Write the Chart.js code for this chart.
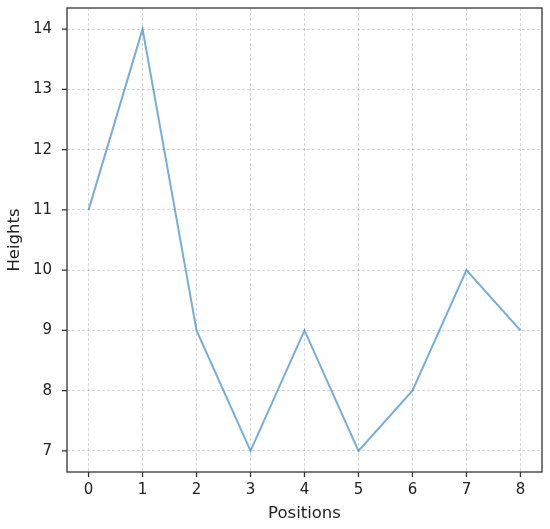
<!DOCTYPE html>
<html>
<head>
<meta charset="utf-8">
<script src="https://cdn.jsdelivr.net/npm/chart.js@4/dist/chart.umd.min.js"></script>
<style>
    body { margin: 0; background: #fff; }
    #wrap { width: 550px; height: 529px; position: relative; }
</style>
</head>
<body>
<div id="wrap"><canvas id="chart"></canvas></div>
<script>
const positions = [0, 1, 2, 3, 4, 5, 6, 7, 8];
const heights = [11, 14, 9, 7, 9, 7, 8, 10, 9];
const xTicks = [0, 1, 2, 3, 4, 5, 6, 7, 8];
const yTicks = [7, 8, 9, 10, 11, 12, 13, 14];

const TEXT = '#222';
const FONT = 'DejaVu Sans';

// matplotlib style box round the plot plus short outward tick marks
const framePlugin = {
    id: 'frame',
    afterDraw(chart) {
        const {ctx, chartArea: a, scales} = chart;
        ctx.save();
        ctx.strokeStyle = '#333';
        ctx.lineWidth = 1.3;
        ctx.strokeRect(a.left, a.top, a.right - a.left, a.bottom - a.top);
        ctx.beginPath();
        scales.x.ticks.forEach(t => {
            let px = scales.x.getPixelForValue(t.value);
            ctx.moveTo(px, a.bottom);
            ctx.lineTo(px, a.bottom + 5);
        });
        scales.y.ticks.forEach(t => {
            let py = scales.y.getPixelForValue(t.value);
            ctx.moveTo(a.left, py);
            ctx.lineTo(a.left - 5, py);
        });
        ctx.stroke();
        ctx.restore();
    }
};

const gridOpts = {
    color: 'rgba(0,0,0,0.16)',
    lineWidth: 1,
    drawTicks: false
};

new Chart(document.getElementById('chart'), {
    type: 'line',
    data: {
        datasets: [{
            data: positions.map((p, i) => ({x: p, y: heights[i]})),
            borderColor: 'rgba(31,119,180,0.6)',
            borderWidth: 2,
            pointRadius: 0,
            tension: 0,
            fill: false
        }]
    },
    options: {
        responsive: true,
        maintainAspectRatio: false,
        animation: false,
        layout: { padding: {left: 0, right: 8, top: 8, bottom: 0} },
        plugins: { legend: { display: false }, tooltip: { enabled: false } },
        scales: {
            x: {
                type: 'linear',
                min: -0.4,
                max: 8.4,
                afterBuildTicks: axis => { axis.ticks = xTicks.map(v => ({value: v})); },
                afterFit: axis => { axis.height = 57; },
                grid: gridOpts,
                border: { display: false, dash: [3, 2] },
                ticks: {
                    autoSkip: false,
                    maxRotation: 0,
                    padding: 9,
                    color: TEXT,
                    font: { family: FONT, size: 15 }
                },
                title: {
                    display: true,
                    text: 'Positions',
                    color: TEXT,
                    font: { family: FONT, size: 16.5 },
                    padding: { top: 0, bottom: 5 }
                }
            },
            y: {
                type: 'linear',
                min: 6.65,
                max: 14.35,
                afterBuildTicks: axis => { axis.ticks = yTicks.map(v => ({value: v})); },
                afterFit: axis => {
                    axis.width = 67;
                    axis.paddingTop = 0;
                    axis.paddingBottom = 0;
                },
                grid: gridOpts,
                border: { display: false, dash: [3, 2] },
                ticks: {
                    autoSkip: false,
                    padding: 15,
                    color: TEXT,
                    font: { family: FONT, size: 15 }
                },
                title: {
                    display: true,
                    text: 'Heights',
                    color: TEXT,
                    font: { family: FONT, size: 16.5 },
                    padding: { top: 5, bottom: 0 }
                }
            }
        }
    },
    plugins: [framePlugin]
});
</script>
</body>
</html>
